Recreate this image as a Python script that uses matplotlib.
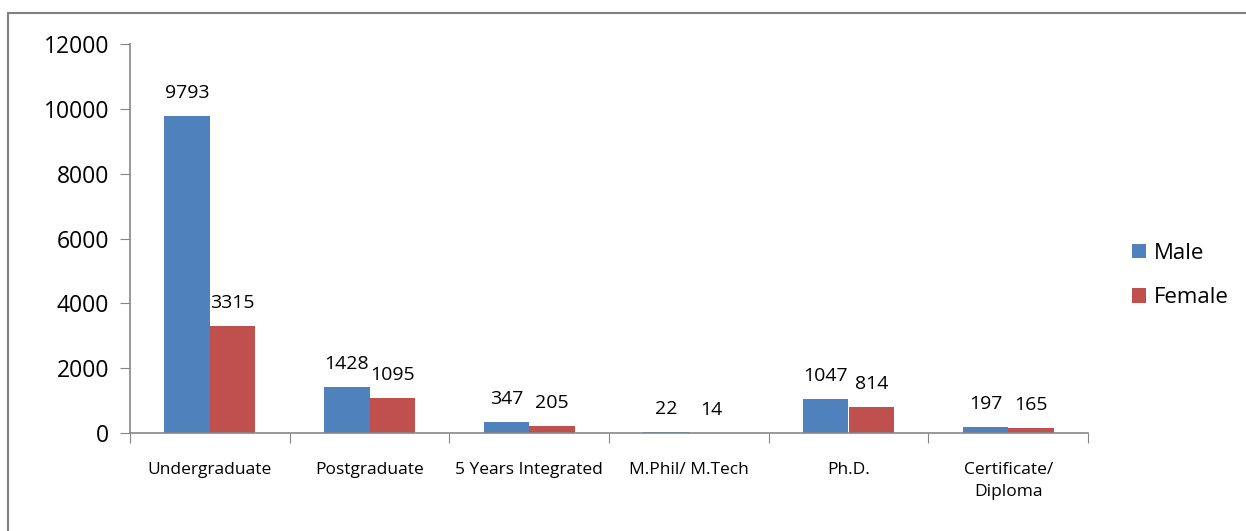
"""Male / female enrolment by programme level, grouped bar chart."""

import matplotlib

matplotlib.use("Agg")
import matplotlib.pyplot as plt
import numpy as np
from matplotlib.patches import Rectangle

categories = [
    "Undergraduate",
    "Postgraduate",
    "5 Years Integrated",
    "M.Phil/ M.Tech",
    "Ph.D.",
    "Certificate/\nDiploma",
]
male = [9793, 1428, 347, 22, 1047, 197]
female = [3315, 1095, 205, 14, 814, 165]

BLUE = "#4F81BD"
RED = "#C0504D"
AXIS_GREY = "#868686"

plt.rcParams["font.family"] = ["Open Sans", "DejaVu Sans"]

fig = plt.figure(figsize=(12.46, 5.31), dpi=100)
ax = fig.add_axes([130 / 1246, 1 - 433 / 531, 958 / 1246, 389 / 531])

x = np.arange(len(categories))
width = 0.285
bars_m = ax.bar(x - width / 2, male, width, color=BLUE, label="Male")
bars_f = ax.bar(x + width / 2, female, width, color=RED, label="Female")

for bars in (bars_m, bars_f):
    for bar in bars:
        ax.annotate(
            f"{int(bar.get_height())}",
            (bar.get_x() + bar.get_width() / 2, bar.get_height()),
            xytext=(0, 10),
            textcoords="offset points",
            ha="center",
            va="bottom",
            fontsize=14,
        )

ax.set_xlim(-0.5, len(categories) - 0.5)
ax.set_ylim(0, 12000)
ax.set_yticks(np.arange(0, 12001, 2000))
ax.tick_params(axis="y", labelsize=16.5, length=7, color=AXIS_GREY, pad=8)

ax.set_xticks(np.arange(-0.5, len(categories), 1.0))
ax.set_xticklabels([])
ax.set_xticks(x, minor=True)
ax.set_xticklabels(categories, minor=True, fontsize=12.5, linespacing=1.5)
ax.tick_params(axis="x", which="major", length=7, color=AXIS_GREY)
ax.tick_params(axis="x", which="minor", length=0, pad=21)

for side in ("top", "right"):
    ax.spines[side].set_visible(False)
for side in ("left", "bottom"):
    ax.spines[side].set_color(AXIS_GREY)
    ax.spines[side].set_linewidth(1.2)

ax.legend(
    loc="center left",
    bbox_to_anchor=(1.025, 0.405),
    frameon=False,
    fontsize=16,
    handlelength=0.65,
    handleheight=0.65,
    handletextpad=0.35,
    labelspacing=1.05,
)

fig.patches.append(
    Rectangle(
        (8 / 1246, -0.05),
        1.1,
        1.05 - 13 / 531,
        transform=fig.transFigure,
        fill=False,
        edgecolor="#808080",
        linewidth=1.5,
    )
)

fig.savefig("out.png", dpi=100)
